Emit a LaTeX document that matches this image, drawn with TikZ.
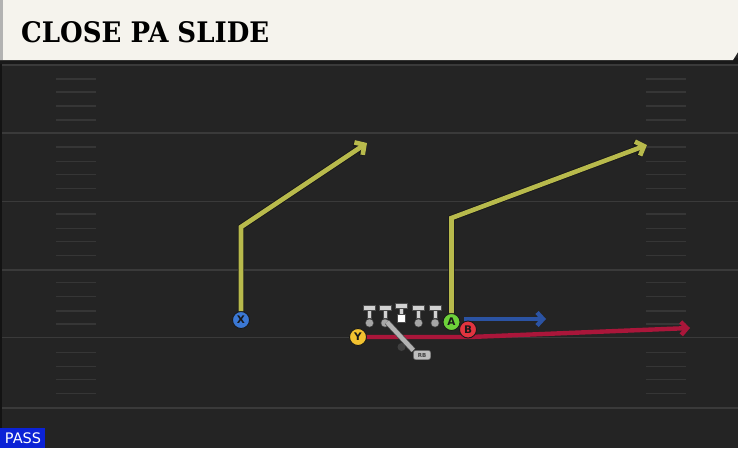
\documentclass[tikz,border=0pt]{standalone}
\usepackage{fontspec}
\usepackage{graphicx}
\usetikzlibrary{arrows.meta}
\setmainfont{DejaVu Sans}
\newfontfamily\titlefont{DejaVu Serif}
\definecolor{fieldbg}{HTML}{242424}
\definecolor{yardc}{HTML}{3A3A3A}
\definecolor{hashc}{HTML}{363636}
\definecolor{bannerc}{HTML}{F5F3ED}
\definecolor{routey}{HTML}{B8BA4C}
\definecolor{routeb}{HTML}{2B53A3}
\definecolor{router}{HTML}{AA163A}
\definecolor{plX}{HTML}{3B78D4}
\definecolor{plY}{HTML}{F2C230}
\definecolor{plA}{HTML}{6DD13A}
\definecolor{plB}{HTML}{E2343F}
\definecolor{linec}{HTML}{D2D2D2}
\definecolor{passc}{HTML}{0B22D6}
\tikzset{
  yard/.style={draw=yardc, line width=1.8pt},
  hashm/.style={draw=hashc, line width=1.1pt},
  player/.style={circle, minimum size=17pt, inner sep=0pt, draw=black!90, line width=0.9pt,
    font=\fontsize{10.5}{10.5}\selectfont\bfseries, text=black!90},
  yroute/.style={draw=routey, line width=4.6pt, line join=miter,
    -{Straight Barb[length=7pt,width=15pt]},
    preaction={draw=black!90, line width=6.4pt, -{Straight Barb[length=7pt,width=15pt]}}},
  broute/.style={draw=routeb, line width=4.4pt, -{Straight Barb[length=6pt,width=13pt]}},
  rroute/.style={draw=router, line width=4.4pt, -{Straight Barb[length=6pt,width=13pt]}},
  rbpath/.style={draw=linec!85!black, line width=4.4pt, preaction={draw=black!70, line width=5.8pt}},
  tbar/.style={fill=linec, draw=black!70, line width=0.6pt},
  rbbox/.style={draw=black!70, fill=linec!90!black, rounded corners=2pt, minimum width=17pt,
    minimum height=9pt, inner sep=0pt, font=\fontsize{5.5}{5.5}\selectfont\bfseries, text=black!75}
}
\begin{document}
\begin{tikzpicture}[x=1pt,y=-1pt]
\useasboundingbox (0,0) rectangle (738,448);
\fill[fieldbg] (0,0) rectangle (738,448);
% yard lines
\foreach \yy in {65,133,201.5,270,337.5,408}
  \draw[yard] (0,\yy) -- (738,\yy);
% hash marks
\foreach \yy in {79,92,106,120,147,161.7,174.3,188.7,214,228.7,241.3,255.7,282.7,296.7,311,324,352.7,366.7,379.3,393.3}{
  \draw[hashm] (56,\yy) -- (96,\yy);
  \draw[hashm] (646,\yy) -- (686,\yy);
}
\draw[draw=yardc!120, line width=1.5pt] (1,60) -- (1,448);
% banner
\fill[black!90] (0,58) rectangle (738,64);
\fill[bannerc] (0,0) -- (738,0) -- (738,52) -- (733,60) -- (0,60) -- cycle;
\fill[black!30] (0,0) rectangle (3,60);
\node[anchor=west, inner sep=0pt] (title) at (21,32.2)
  {\resizebox{248pt}{21pt}{\titlefont\bfseries CLOSE PA SLIDE}};
% players
\node[player, fill=plX] (X) at (241,320) {X};
\node[player, fill=plY] (Y) at (358,337) {Y};
% routes under A and B
\coordinate (xb) at (241,227);
\coordinate (xe) at (367,143);
\coordinate (ab) at (451.5,218);
\coordinate (ae) at (647,145);
\coordinate (bt) at (546,319);
\coordinate (rb1) at (470,337);
\coordinate (re) at (690,328);
\draw[rroute] (Y.east) -- (rb1) -- (re);
\draw[broute] (466.5,322) |- (bt);
% linemen
\foreach \xx in {369.5,385,418.5,435}{
  \fill[black!70] (\xx,323) circle (4.4pt);
  \fill[black!35] (\xx,323) circle (3.7pt);
  \filldraw[tbar] (\xx-2,309) rectangle (\xx+2,318.5);
  \filldraw[tbar] (\xx-6,305) rectangle (\xx+6,310);
}
\filldraw[tbar] (399.5,307) rectangle (403.5,314);
\filldraw[tbar] (395.5,303) rectangle (407.5,308);
\filldraw[fill=white, draw=black!70, line width=0.6pt] (397.5,314) rectangle (405.5,322);
% running back fake
\node[fill=black!75, circle, inner sep=0pt, minimum size=8pt] (qb) at (401.5,347) {};
\node[rbbox] (RB) at (422,355) {RB};
\draw[rbpath] (387,322) -- (RB.north west);
\node[rbbox] at (RB) {RB};
\node[player, fill=plA] (A) at (451.5,322) {A};
\node[player, fill=plB] (B) at (468,329.5) {B};
\draw[yroute] (X.north) -- (xb) -- (xe);
\draw[yroute] (A.north) -- (ab) -- (ae);
% pass label
\fill[passc] (0,428) rectangle (45,448);
\node[text=white, inner sep=0pt, font=\fontsize{14.5}{14.5}\selectfont] (pass) at (23,438.5) {PASS};
\end{tikzpicture}
\end{document}
